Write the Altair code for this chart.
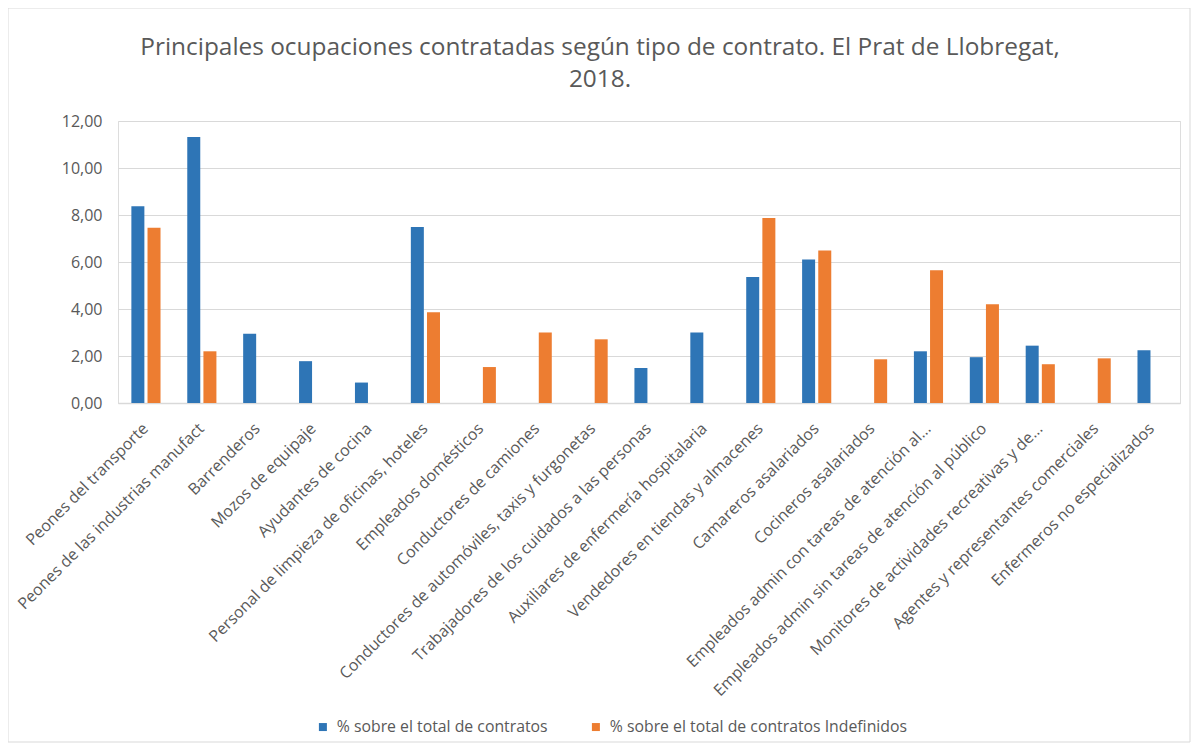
import altair as alt
import pandas as pd

categories = [
    "Peones del transporte",
    "Peones de las industrias manufact",
    "Barrenderos",
    "Mozos de equipaje",
    "Ayudantes de cocina",
    "Personal de limpieza de oficinas, hoteles",
    "Empleados domésticos",
    "Conductores de camiones",
    "Conductores de automóviles, taxis y furgonetas",
    "Trabajadores de los cuidados a las personas",
    "Auxiliares de enfermería hospitalaria",
    "Vendedores en tiendas y almacenes",
    "Camareros asalariados",
    "Cocineros asalariados",
    "Empleados admin con tareas de atención al...",
    "Empleados admin sin tareas de atención al público",
    "Monitores de actividades recreativas y de...",
    "Agentes y representantes comerciales",
    "Enfermeros no especializados",
]
series_names = [
    "% sobre el total de contratos",
    "% sobre el total de contratos Indefinidos",
]
total_contratos = [8.37, 11.32, 2.95, 1.78, 0.87, 7.49, 0, 0, 0, 1.49, 3.00,
                   5.36, 6.11, 0, 2.20, 1.95, 2.44, 0, 2.24]
indefinidos = [7.46, 2.20, 0, 0, 0, 3.86, 1.53, 3.00, 2.71, 0, 0,
               7.87, 6.49, 1.86, 5.65, 4.20, 1.65, 1.90, 0]
title_lines = [
    "Principales ocupaciones contratadas según tipo de contrato. El Prat de Llobregat,",
    "2018.",
]

rows = []
for c, a, b in zip(categories, total_contratos, indefinidos):
    rows.append({"cat": c, "serie": series_names[0], "valor": a})
    rows.append({"cat": c, "serie": series_names[1], "valor": b})
df = pd.DataFrame(rows)

FONT = "Open Sans"
GRAY = "#595959"
W, H = 1062, 282

bars = alt.Chart(df).mark_bar(size=13).encode(
    x=alt.X("cat:N", sort=categories, title=None,
            scale=alt.Scale(paddingInner=0.48, paddingOuter=0.24),
            axis=alt.Axis(labelAngle=-45, labelFontSize=16, labelFont=FONT,
                          labelColor=GRAY, ticks=False, domainColor="#d9d9d9",
                          domainWidth=1.5, labelPadding=17, labelOffset=-6,
                          labelLimit=500, grid=False)),
    xOffset=alt.XOffset("serie:N", sort=series_names,
                        scale=alt.Scale(paddingInner=0.2)),
    y=alt.Y("valor:Q", title=None,
            scale=alt.Scale(domain=[0, 12]),
            axis=alt.Axis(values=[0, 2, 4, 6, 8, 10, 12],
                          labelExpr="replace(format(datum.value, '.2f'), '.', ',')",
                          labelFontSize=16, labelFont=FONT, labelColor=GRAY,
                          ticks=False, domain=False, gridColor="#d9d9d9",
                          gridWidth=1.2, labelPadding=16)),
    color=alt.Color("serie:N", sort=series_names,
                    scale=alt.Scale(domain=series_names,
                                    range=["#2e75b6", "#ed7d31"]),
                    legend=alt.Legend(title=None, orient="none",
                                      direction="horizontal",
                                      legendX=197, legendY=598,
                                      symbolType="square", symbolSize=64,
                                      labelFont=FONT, labelFontSize=15.8,
                                      labelOffset=6,
                                      labelColor=GRAY, columnPadding=40,
                                      labelLimit=600, symbolStrokeWidth=0)),
)

title = alt.Chart(pd.DataFrame({"k": [0]})).mark_text(
    text=title_lines, font=FONT, fontSize=24.4, color=GRAY,
    align="center", baseline="alphabetic", lineHeight=32,
).encode(x=alt.value(482), y=alt.value(-66))

border = alt.Chart(pd.DataFrame({"k": [0]})).mark_rect(
    fill=None, stroke="#d9d9d9", strokeWidth=1, clip=False
).encode(x=alt.value(-110), x2=alt.value(W + 10),
         y=alt.value(-113), y2=alt.value(H + 339))

chart = alt.layer(border, bars, title).properties(
    width=W, height=H,
    padding={"left": 110, "top": 113, "right": 11, "bottom": 340},
    autosize=alt.AutoSizeParams(type="none"),
).configure_view(stroke=None).configure(background="white")

chart.save("out.html", embed_options={"renderer": "svg", "actions": False})
